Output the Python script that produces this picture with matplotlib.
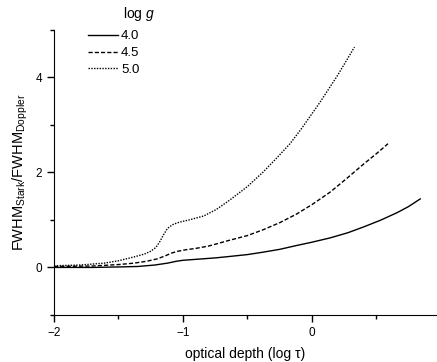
import matplotlib.pyplot as plt
from matplotlib.ticker import MultipleLocator

plt.rcParams['font.family'] = ['Liberation Sans', 'DejaVu Sans']
plt.rcParams['mathtext.fontset'] = 'custom'
plt.rcParams['mathtext.rm'] = 'Liberation Sans'
plt.rcParams['mathtext.it'] = 'Liberation Sans:italic'

# log g = 4.0
logtau_40 = [-2.0, -1.7, -1.5, -1.35, -1.22, -1.12, -1.05, -1.0, -0.9, -0.75, -0.64, -0.5,
             -0.38, -0.25, -0.12, 0.0, 0.14, 0.28, 0.4, 0.53, 0.66, 0.75, 0.84]
ratio_40 = [0.0, 0.0, 0.01, 0.02, 0.05, 0.09, 0.13, 0.15, 0.17, 0.2, 0.23, 0.27,
            0.32, 0.38, 0.46, 0.53, 0.62, 0.73, 0.85, 0.99, 1.15, 1.28, 1.44]

# log g = 4.5
logtau_45 = [-2.0, -1.7, -1.5, -1.38, -1.28, -1.2, -1.14, -1.09, -1.04, -0.98, -0.9, -0.8,
             -0.64, -0.5, -0.38, -0.25, -0.12, 0.0, 0.14, 0.27, 0.4, 0.5, 0.59]
ratio_45 = [0.02, 0.03, 0.06, 0.09, 0.13, 0.18, 0.24, 0.3, 0.34, 0.37, 0.4, 0.45,
            0.57, 0.67, 0.79, 0.94, 1.12, 1.32, 1.58, 1.87, 2.17, 2.39, 2.6]

# log g = 5.0
logtau_50 = [-2.0, -1.8, -1.61, -1.5, -1.38, -1.3, -1.25, -1.21, -1.18, -1.15, -1.12, -1.08,
             -1.03, -0.95, -0.84, -0.74, -0.64, -0.5, -0.38, -0.28, -0.17, -0.08, 0.06, 0.2, 0.33]
ratio_50 = [0.035, 0.05, 0.09, 0.14, 0.22, 0.28, 0.34, 0.42, 0.54, 0.69, 0.82, 0.9,
            0.95, 1.0, 1.08, 1.22, 1.41, 1.7, 2.0, 2.28, 2.6, 2.92, 3.46, 4.04, 4.63]

fig = plt.figure(figsize=(4.37, 3.62), dpi=100)
ax = fig.add_axes([0.1236, 0.1298, 0.8764, 0.7887])

ax.plot(logtau_40, ratio_40, color='black', lw=1.0, ls='-', label='4.0')
ax.plot(logtau_45, ratio_45, color='black', lw=1.0, ls=(0, (3, 1.5)), label='4.5')
ax.plot(logtau_50, ratio_50, color='black', lw=1.0, ls=(0, (1, 1)), label='5.0')

ax.set_xlim(-2, 0.97)
ax.set_ylim(-1, 5)
ax.xaxis.set_major_locator(MultipleLocator(1))
ax.xaxis.set_minor_locator(MultipleLocator(0.5))
ax.yaxis.set_major_locator(MultipleLocator(2))
ax.yaxis.set_minor_locator(MultipleLocator(1))
ax.tick_params(which='major', direction='out', length=5, width=1, labelsize=8.5)
ax.tick_params(which='minor', direction='out', length=3, width=1)

ax.spines['top'].set_visible(False)
ax.spines['right'].set_visible(False)

ax.set_xlabel('optical depth (log \u03c4)', fontsize=10, labelpad=6)
ax.set_ylabel(r'FWHM$_{\rm Stark}$/FWHM$_{\rm Doppler}$', fontsize=10.5, labelpad=4)

ax.legend(loc='upper left', bbox_to_anchor=(0.089, 0.998), frameon=False, fontsize=9.5,
          handlelength=2.3, handletextpad=0.2, labelspacing=0.35, borderaxespad=0,
          borderpad=0)
ax.text(0.180, 1.054, r'log $g$', transform=ax.transAxes, fontsize=10, ha='left', va='center')

fig.savefig('out.png', dpi=100)
